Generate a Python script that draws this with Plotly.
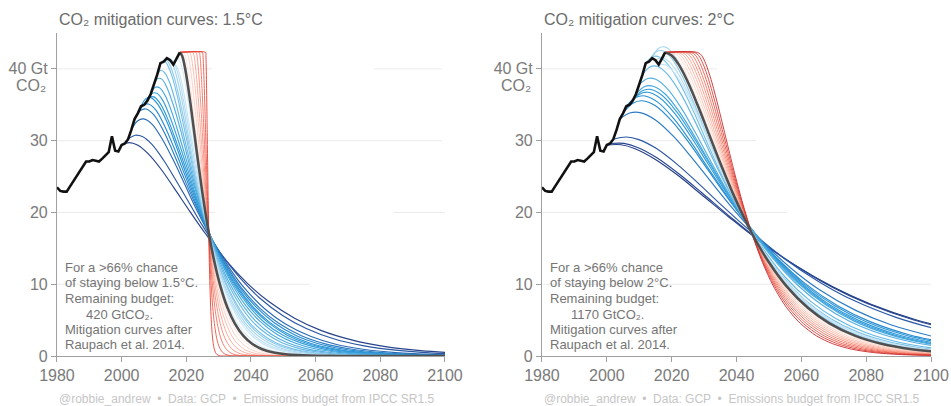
import plotly.graph_objects as go

# ---------------- data ----------------
HIST_YEARS = list(range(1980, 2019))
HIST_EMISSIONS = [23.5, 23.0, 22.9, 22.9, 23.6, 24.3, 25.0, 25.8, 26.5, 27.1,
                  27.1, 27.3, 27.2, 27.1, 27.5, 28.0, 28.4, 30.6, 28.6, 28.5,
                  29.4, 29.6, 30.2, 31.5, 33.0, 33.8, 34.8, 35.0, 35.6, 36.5,
                  37.8, 39.2, 40.8, 41.0, 41.5, 41.2, 40.6, 41.5, 42.3]

# shared shape of the grey / red (delayed) curves after their start of decline
DECLINE_VALUES = [42.3, 41.87, 40.73, 38.49, 34.97, 31.12, 26.51, 22.20, 17.17, 13.05,
                  9.77, 6.71, 4.55, 2.80, 1.71, 0.95, 0.48, 0.20, 0.05, 0.01]

# ---- 1.5 C panel: blue curves (mitigation starting 2000 ... 2017)
B15_YEARS = [
    [2000, 2002.4, 2004.9, 2008.1, 2012.2, 2016.2, 2021.1, 2026.0, 2032.4, 2038.9, 2045.4, 2053.5, 2061.6, 2071.4, 2081.1, 2092.5, 2105.4],
    [2002, 2004.2, 2006.4, 2009.3, 2012.9, 2016.5, 2020.9, 2025.2, 2031.0, 2036.8, 2042.6, 2049.9, 2057.1, 2065.8, 2074.6, 2084.7, 2096.3, 2110.8],
    [2003, 2004.9, 2006.8, 2009.3, 2012.4, 2015.6, 2019.4, 2023.1, 2028.2, 2033.2, 2038.2, 2044.5, 2050.8, 2058.4, 2065.9, 2074.7, 2084.8, 2097.4, 2116.2],
    [2004, 2005.8, 2007.5, 2009.9, 2012.8, 2015.7, 2019.2, 2022.8, 2027.5, 2032.2, 2036.8, 2042.7, 2048.6, 2055.6, 2062.7, 2070.9, 2080.2, 2092.0, 2109.6],
    [2005, 2006.7, 2008.3, 2010.6, 2013.3, 2016.1, 2019.5, 2022.8, 2027.2, 2031.7, 2036.1, 2041.7, 2047.3, 2053.9, 2060.6, 2068.4, 2077.3, 2088.4, 2105.1],
    [2006, 2007.6, 2009.1, 2011.2, 2013.9, 2016.5, 2019.6, 2022.8, 2026.9, 2031.1, 2035.3, 2040.6, 2045.8, 2052.1, 2058.4, 2065.7, 2074.1, 2084.5, 2100.2, 2121.2],
    [2007, 2008.5, 2010.0, 2012.0, 2014.5, 2017.0, 2020.1, 2023.1, 2027.1, 2031.1, 2035.1, 2040.1, 2045.2, 2051.2, 2057.2, 2064.2, 2072.3, 2082.3, 2097.4, 2117.4],
    [2008, 2009.4, 2010.9, 2012.8, 2015.1, 2017.5, 2020.4, 2023.2, 2027.0, 2030.8, 2034.6, 2039.4, 2044.1, 2049.8, 2055.6, 2062.2, 2069.8, 2079.3, 2093.6, 2112.6],
    [2009, 2010.3, 2011.7, 2013.5, 2015.7, 2017.9, 2020.6, 2023.3, 2026.8, 2030.4, 2034.0, 2038.4, 2042.9, 2048.2, 2053.6, 2059.8, 2067.0, 2075.9, 2089.3, 2107.1],
    [2010, 2011.2, 2012.5, 2014.1, 2016.2, 2018.3, 2020.7, 2023.2, 2026.5, 2029.8, 2033.1, 2037.3, 2041.4, 2046.3, 2051.3, 2057.1, 2063.7, 2071.9, 2084.3, 2100.8],
    [2011, 2012.2, 2013.3, 2014.9, 2016.8, 2018.7, 2021.0, 2023.4, 2026.4, 2029.5, 2032.6, 2036.5, 2040.3, 2045.0, 2049.6, 2055.0, 2061.2, 2068.9, 2080.5, 2095.9, 2101],
    [2012, 2013.1, 2014.1, 2015.6, 2017.4, 2019.1, 2021.3, 2023.4, 2026.3, 2029.1, 2032.0, 2035.6, 2039.1, 2043.4, 2047.7, 2052.7, 2058.4, 2065.6, 2076.3, 2090.6, 2101],
    [2013, 2014.0, 2015.0, 2016.4, 2018.1, 2019.8, 2021.8, 2023.8, 2026.6, 2029.3, 2032.0, 2035.4, 2038.7, 2042.8, 2046.9, 2051.6, 2057.0, 2063.8, 2074.0, 2087.5, 2101],
    [2014, 2015.0, 2015.9, 2017.2, 2018.8, 2020.3, 2022.2, 2024.1, 2026.7, 2029.2, 2031.7, 2034.9, 2038.1, 2041.9, 2045.7, 2050.1, 2055.2, 2061.5, 2071.1, 2083.7, 2101],
    [2015, 2015.9, 2016.8, 2018.0, 2019.4, 2020.9, 2022.7, 2024.5, 2026.8, 2029.2, 2031.5, 2034.5, 2037.5, 2041.0, 2044.5, 2048.7, 2053.4, 2059.3, 2068.2, 2080.0, 2101],
    [2016, 2016.8, 2017.7, 2018.8, 2020.1, 2021.5, 2023.2, 2024.8, 2027.0, 2029.2, 2031.4, 2034.2, 2037.0, 2040.3, 2043.6, 2047.4, 2051.8, 2057.4, 2065.6, 2076.7, 2101],
    [2017, 2017.7, 2018.5, 2019.5, 2020.7, 2021.9, 2023.4, 2024.9, 2026.9, 2028.8, 2030.8, 2033.3, 2035.7, 2038.7, 2041.7, 2045.1, 2049.1, 2054.0, 2061.4, 2071.3, 2101],
]
B15_VALUES = [
    [29.4, 29.73, 29.39, 28.22, 26.02, 23.42, 20.15, 17.0, 13.25, 10.12, 7.62, 5.26, 3.57, 2.21, 1.35, 0.75, 0.38],
    [30.2, 30.76, 30.57, 29.51, 27.34, 24.69, 21.31, 18.02, 14.08, 10.77, 8.12, 5.61, 3.82, 2.36, 1.45, 0.81, 0.40, 0.17],
    [31.5, 32.74, 33.03, 32.34, 30.34, 27.64, 24.04, 20.45, 16.07, 12.35, 9.34, 6.48, 4.42, 2.74, 1.68, 0.94, 0.47, 0.20, 0.05],
    [33.0, 34.19, 34.41, 33.62, 31.48, 28.64, 24.88, 21.15, 16.61, 12.76, 9.64, 6.68, 4.56, 2.83, 1.73, 0.97, 0.49, 0.20, 0.05],
    [33.8, 34.94, 35.11, 34.25, 32.03, 29.11, 25.27, 21.46, 16.84, 12.93, 9.77, 6.77, 4.61, 2.86, 1.75, 0.98, 0.49, 0.21, 0.05],
    [34.8, 35.89, 36.0, 35.05, 32.73, 29.72, 25.78, 21.88, 17.16, 13.17, 9.94, 6.88, 4.69, 2.91, 1.78, 1.0, 0.50, 0.21, 0.06, 0.01],
    [35.0, 36.04, 36.10, 35.12, 32.76, 29.73, 25.76, 21.86, 17.13, 13.14, 9.92, 6.87, 4.68, 2.90, 1.78, 0.99, 0.50, 0.21, 0.05, 0.01],
    [35.6, 36.58, 36.60, 35.55, 33.12, 30.03, 26.0, 22.05, 17.27, 13.25, 10.0, 6.92, 4.71, 2.92, 1.79, 1.0, 0.50, 0.21, 0.06, 0.01],
    [36.5, 37.42, 37.38, 36.25, 33.73, 30.55, 26.43, 22.40, 17.53, 13.44, 10.14, 7.02, 4.78, 2.96, 1.81, 1.01, 0.51, 0.21, 0.06, 0.01],
    [37.8, 38.66, 38.54, 37.31, 34.66, 31.36, 27.10, 22.95, 17.95, 13.75, 10.37, 7.17, 4.88, 3.03, 1.85, 1.03, 0.52, 0.22, 0.06, 0.01],
    [39.2, 39.81, 39.48, 38.03, 35.17, 31.71, 27.33, 23.09, 18.02, 13.79, 10.38, 7.17, 4.88, 3.02, 1.85, 1.03, 0.52, 0.22, 0.06, 0.01, 0.0],
    [40.8, 41.16, 40.63, 38.95, 35.86, 32.24, 27.71, 23.36, 18.20, 13.89, 10.45, 7.21, 4.90, 3.03, 1.85, 1.03, 0.52, 0.22, 0.06, 0.01, 0.0],
    [41.0, 41.14, 40.44, 38.61, 35.42, 31.75, 27.23, 22.91, 17.81, 13.58, 10.20, 7.03, 4.78, 2.95, 1.80, 1.0, 0.50, 0.21, 0.06, 0.01, 0.0],
    [41.5, 41.43, 40.57, 38.59, 35.28, 31.54, 26.98, 22.67, 17.59, 13.39, 10.05, 6.92, 4.69, 2.90, 1.77, 0.98, 0.49, 0.21, 0.05, 0.01, 0.0],
    [41.2, 41.11, 40.24, 38.25, 34.96, 31.25, 26.72, 22.45, 17.42, 13.26, 9.95, 6.85, 4.64, 2.87, 1.75, 0.97, 0.49, 0.20, 0.05, 0.01, 0.0],
    [40.6, 40.49, 39.62, 37.65, 34.39, 30.73, 26.28, 22.07, 17.12, 13.03, 9.78, 6.73, 4.56, 2.82, 1.72, 0.96, 0.48, 0.20, 0.05, 0.01, 0.0],
    [41.5, 41.35, 40.44, 38.41, 35.07, 31.33, 26.78, 22.48, 17.43, 13.27, 9.95, 6.85, 4.64, 2.87, 1.75, 0.98, 0.49, 0.20, 0.05, 0.01, 0.0],
]
GREY15_YEARS = [2018.0, 2018.67, 2019.34, 2020.23, 2021.35, 2022.47, 2023.81, 2025.15, 2026.94, 2028.72,
                2030.51, 2032.74, 2034.98, 2037.66, 2040.34, 2043.47, 2047.04, 2051.51, 2058.21, 2067.15]
RED15_YEARS = [
    [2019.0, 2019.60, 2020.19, 2020.98, 2021.98, 2022.97, 2024.16, 2025.35, 2026.94, 2028.52, 2030.11, 2032.09, 2034.08, 2036.46, 2038.84, 2041.62, 2044.79, 2048.76, 2054.71, 2062.65],
    [2020.0, 2020.52, 2021.04, 2021.73, 2022.60, 2023.47, 2024.51, 2025.55, 2026.94, 2028.32, 2029.71, 2031.44, 2033.18, 2035.26, 2037.34, 2039.77, 2042.54, 2046.01, 2051.21, 2058.15],
    [2021.0, 2021.45, 2021.89, 2022.48, 2023.23, 2023.97, 2024.86, 2025.75, 2026.94, 2028.12, 2029.31, 2030.79, 2032.28, 2034.06, 2035.84, 2037.92, 2040.29, 2043.26, 2047.71, 2053.65],
    [2022.0, 2022.37, 2022.74, 2023.23, 2023.85, 2024.47, 2025.21, 2025.95, 2026.94, 2027.92, 2028.91, 2030.14, 2031.38, 2032.86, 2034.34, 2036.07, 2038.04, 2040.51, 2044.21, 2049.15],
    [2023.0, 2023.30, 2023.59, 2023.98, 2024.48, 2024.97, 2025.56, 2026.15, 2026.94, 2027.72, 2028.51, 2029.49, 2030.48, 2031.66, 2032.84, 2034.22, 2035.79, 2037.76, 2040.71, 2044.65],
    [2024.0, 2024.22, 2024.44, 2024.73, 2025.10, 2025.47, 2025.91, 2026.35, 2026.94, 2027.52, 2028.11, 2028.84, 2029.58, 2030.46, 2031.34, 2032.37, 2033.54, 2035.01, 2037.21, 2040.15],
    [2025.0, 2025.15, 2025.29, 2025.48, 2025.73, 2025.97, 2026.26, 2026.55, 2026.94, 2027.32, 2027.71, 2028.19, 2028.68, 2029.26, 2029.84, 2030.52, 2031.29, 2032.26, 2033.71, 2035.65],
    [2026.0, 2026.07, 2026.14, 2026.23, 2026.35, 2026.47, 2026.61, 2026.75, 2026.94, 2027.12, 2027.31, 2027.54, 2027.78, 2028.06, 2028.34, 2028.67, 2029.04, 2029.51, 2030.21, 2031.15],
]

# ---- 2 C panel
B20_YEARS = [
    [2000, 2004.4, 2008.7, 2014.5, 2021.8, 2029.0, 2037.7, 2046.4, 2058.1, 2069.7, 2081.3, 2095.8, 2110.3],
    [2001, 2005.3, 2009.5, 2015.2, 2022.3, 2029.4, 2037.9, 2046.4, 2057.8, 2069.1, 2080.5, 2094.7, 2108.8],
    [2002, 2006.0, 2009.9, 2015.2, 2021.8, 2028.4, 2036.3, 2044.3, 2054.8, 2065.4, 2075.9, 2089.2, 2102.4],
    [2004, 2007.3, 2010.6, 2015.0, 2020.5, 2026.0, 2032.6, 2039.2, 2048.0, 2056.8, 2065.6, 2076.6, 2087.6, 2100.8],
    [2005, 2008.0, 2011.0, 2015.0, 2020.0, 2025.1, 2031.1, 2037.1, 2045.1, 2053.1, 2061.1, 2071.2, 2081.2, 2093.2, 2105.3],
    [2006, 2008.9, 2011.8, 2015.7, 2020.6, 2025.5, 2031.3, 2037.2, 2045.0, 2052.8, 2060.5, 2070.3, 2080.0, 2091.7, 2103.4],
    [2007, 2009.8, 2012.6, 2016.3, 2021.0, 2025.6, 2031.2, 2036.8, 2044.3, 2051.7, 2059.2, 2068.5, 2077.8, 2089.0, 2100.2, 2113.2],
    [2008, 2010.7, 2013.4, 2017.1, 2021.6, 2026.1, 2031.6, 2037.0, 2044.2, 2051.5, 2058.7, 2067.8, 2076.9, 2087.7, 2098.6, 2111.3],
    [2009, 2011.7, 2014.3, 2017.9, 2022.3, 2026.7, 2032.0, 2037.4, 2044.4, 2051.5, 2058.6, 2067.5, 2076.3, 2087.0, 2097.6, 2110.0],
    [2010, 2012.6, 2015.1, 2018.5, 2022.8, 2027.0, 2032.1, 2037.2, 2044.1, 2050.9, 2057.7, 2066.2, 2074.7, 2084.9, 2095.2, 2107.1],
    [2011, 2013.4, 2015.7, 2018.8, 2022.8, 2026.7, 2031.4, 2036.1, 2042.4, 2048.7, 2054.9, 2062.8, 2070.6, 2080.0, 2089.5, 2100.4, 2113.0],
    [2012, 2014.2, 2016.5, 2019.5, 2023.2, 2027.0, 2031.4, 2035.9, 2041.9, 2047.9, 2053.9, 2061.3, 2068.8, 2077.8, 2086.8, 2097.2, 2109.2],
    [2013, 2015.1, 2017.2, 2020.0, 2023.5, 2026.9, 2031.1, 2035.3, 2040.9, 2046.5, 2052.0, 2059.0, 2066.0, 2074.3, 2082.7, 2092.5, 2103.6],
    [2014, 2016.0, 2018.0, 2020.7, 2024.0, 2027.4, 2031.4, 2035.4, 2040.7, 2046.0, 2051.4, 2058.1, 2064.7, 2072.7, 2080.8, 2090.1, 2100.8],
    [2015, 2017.1, 2019.3, 2022.1, 2025.6, 2029.2, 2033.4, 2037.7, 2043.4, 2049.0, 2054.7, 2061.8, 2068.9, 2077.4, 2085.9, 2095.8, 2107.2],
    [2016, 2018.2, 2020.3, 2023.2, 2026.8, 2030.4, 2034.7, 2039.0, 2044.8, 2050.5, 2056.3, 2063.5, 2070.7, 2079.3, 2088.0, 2098.0, 2109.5],
    [2017, 2019.0, 2021.0, 2023.6, 2026.9, 2030.2, 2034.2, 2038.2, 2043.4, 2048.7, 2054.0, 2060.6, 2067.2, 2075.2, 2083.1, 2092.4, 2102.9],
]
B20_VALUES = [
    [29.4, 29.43, 28.88, 27.52, 25.21, 22.57, 19.34, 16.26, 12.63, 9.63, 7.23, 4.98, 3.38],
    [29.6, 29.62, 29.06, 27.69, 25.36, 22.71, 19.45, 16.35, 12.70, 9.68, 7.27, 5.01, 3.40],
    [30.2, 30.51, 30.15, 28.93, 26.66, 23.98, 20.63, 17.40, 13.56, 10.36, 7.79, 5.38, 3.65],
    [33.0, 33.88, 33.88, 32.88, 30.62, 27.75, 24.03, 20.37, 15.95, 12.23, 9.23, 6.39, 4.35, 2.70],
    [33.8, 35.21, 35.56, 34.86, 32.75, 29.86, 25.99, 22.12, 17.39, 13.37, 10.12, 7.01, 4.79, 2.97, 1.82],
    [34.8, 36.02, 36.23, 35.37, 33.10, 30.10, 26.14, 22.21, 17.43, 13.39, 10.12, 7.01, 4.78, 2.97, 1.82],
    [35.0, 36.41, 36.75, 35.99, 33.78, 30.79, 26.79, 22.79, 17.91, 13.77, 10.41, 7.22, 4.93, 3.06, 1.88, 1.05],
    [35.6, 36.90, 37.15, 36.30, 34.0, 30.94, 26.88, 22.85, 17.94, 13.78, 10.42, 7.22, 4.92, 3.05, 1.87, 1.05],
    [36.5, 37.55, 37.59, 36.54, 34.07, 30.90, 26.77, 22.71, 17.79, 13.65, 10.30, 7.13, 4.86, 3.01, 1.84, 1.03],
    [37.8, 38.66, 38.55, 37.32, 34.67, 31.37, 27.11, 22.96, 17.96, 13.76, 10.38, 7.17, 4.88, 3.03, 1.85, 1.03],
    [39.2, 40.31, 40.34, 39.21, 36.55, 33.14, 28.71, 24.35, 19.08, 14.63, 11.04, 7.64, 5.21, 3.23, 1.98, 1.10, 0.56],
    [40.8, 41.72, 41.59, 40.26, 37.40, 33.83, 29.25, 24.76, 19.37, 14.84, 11.19, 7.74, 5.27, 3.26, 2.0, 1.11, 0.56],
    [41.0, 42.35, 42.53, 41.46, 38.75, 35.21, 30.56, 25.95, 20.36, 15.63, 11.80, 8.18, 5.58, 3.46, 2.12, 1.18, 0.59],
    [41.5, 42.87, 43.05, 41.97, 39.23, 35.64, 30.93, 26.27, 20.61, 15.82, 11.95, 8.28, 5.64, 3.50, 2.15, 1.20, 0.60],
    [41.2, 41.53, 40.97, 39.26, 36.13, 32.47, 27.89, 23.51, 18.31, 13.98, 10.51, 7.25, 4.93, 3.05, 1.86, 1.04, 0.52],
    [40.6, 40.56, 39.75, 37.82, 34.60, 30.95, 26.48, 22.25, 17.28, 13.16, 9.87, 6.80, 4.61, 2.85, 1.74, 0.97, 0.49],
    [41.5, 41.79, 41.18, 39.42, 36.25, 32.55, 27.95, 23.56, 18.33, 13.99, 10.52, 7.25, 4.93, 3.05, 1.86, 1.04, 0.52],
]
GREY20_YEARS = [2018.0, 2020.0, 2022.0, 2024.67, 2028.0, 2031.33, 2035.33, 2039.33, 2044.67, 2050.0,
                2055.33, 2062.0, 2068.67, 2076.67, 2084.67, 2094.0, 2104.67]
RED20_YEARS = [
    [2019, 2020.92, 2022.85, 2025.42, 2028.62, 2031.83, 2035.68, 2039.53, 2044.67, 2049.80, 2054.93, 2061.35, 2067.77, 2075.47, 2083.17, 2092.15, 2102.42],
    [2020, 2021.85, 2023.70, 2026.17, 2029.25, 2032.33, 2036.03, 2039.73, 2044.67, 2049.60, 2054.53, 2060.70, 2066.87, 2074.27, 2081.67, 2090.30, 2100.17, 2112.5],
    [2021, 2022.78, 2024.55, 2026.92, 2029.87, 2032.83, 2036.38, 2039.93, 2044.67, 2049.40, 2054.13, 2060.05, 2065.97, 2073.07, 2080.17, 2088.45, 2097.92, 2109.75],
    [2022, 2023.70, 2025.40, 2027.67, 2030.50, 2033.33, 2036.73, 2040.13, 2044.67, 2049.20, 2053.73, 2059.40, 2065.07, 2071.87, 2078.67, 2086.60, 2095.67, 2107.0],
    [2023, 2024.62, 2026.25, 2028.42, 2031.12, 2033.83, 2037.08, 2040.33, 2044.67, 2049.0, 2053.33, 2058.75, 2064.17, 2070.67, 2077.17, 2084.75, 2093.42, 2104.25],
    [2024, 2025.55, 2027.10, 2029.17, 2031.75, 2034.33, 2037.43, 2040.53, 2044.67, 2048.80, 2052.93, 2058.10, 2063.27, 2069.47, 2075.67, 2082.90, 2091.17, 2101.5],
    [2025, 2026.47, 2027.95, 2029.92, 2032.37, 2034.83, 2037.78, 2040.73, 2044.67, 2048.60, 2052.53, 2057.45, 2062.37, 2068.27, 2074.17, 2081.05, 2088.92, 2098.75, 2113.5],
    [2026, 2027.40, 2028.80, 2030.67, 2033.0, 2035.33, 2038.13, 2040.93, 2044.67, 2048.40, 2052.13, 2056.80, 2061.47, 2067.07, 2072.67, 2079.20, 2086.67, 2096.0, 2110.0],
    [2027, 2028.32, 2029.65, 2031.42, 2033.62, 2035.83, 2038.48, 2041.13, 2044.67, 2048.20, 2051.73, 2056.15, 2060.57, 2065.87, 2071.17, 2077.35, 2084.42, 2093.25, 2106.5],
    [2028, 2029.25, 2030.50, 2032.17, 2034.25, 2036.33, 2038.83, 2041.33, 2044.67, 2048.0, 2051.33, 2055.50, 2059.67, 2064.67, 2069.67, 2075.50, 2082.17, 2090.50, 2103.0],
]

TICK_YEARS = [1980, 2000, 2020, 2040, 2060, 2080, 2100]
TICK_VALUES = [0, 10, 20, 30, 40]
TICK_TEXT = ["0", "10", "20", "30", "40 Gt"]

TITLES = ["CO₂ mitigation curves: 1.5°C", "CO₂ mitigation curves: 2°C"]
NOTES = [
    ["For a >66% chance", "of staying below 1.5°C.", "Remaining budget:",
     "420 GtCO₂.", "Mitigation curves after", "Raupach et al. 2014."],
    ["For a >66% chance", "of staying below 2°C.", "Remaining budget:",
     "1170 GtCO₂.", "Mitigation curves after", "Raupach et al. 2014."],
]
FOOTER = "@robbie_andrew  •  Data: GCP  •  Emissions budget from IPCC SR1.5"

# ---------------- styles ----------------
BLUE15_COLORS = ["#26428b", "#2a56a2", "#2b6bb6", "#2a7dc4", "#288bcf", "#2994d5", "#309ad8",
                 "#39a0db", "#45a7de", "#54afe1", "#66b8e5", "#7ac1e8", "#8fcbec", "#a4d5f0",
                 "#b7def3", "#c8e6f6", "#d7edf8"]
BLUE20_COLORS = ["#233d85", "#26468f", "#2a58a5", "#2c7bc3", "#288bcf", "#2994d5", "#309ad8",
                 "#39a0db", "#45a7de", "#54afe1", "#66b8e5", "#7ac1e8", "#8fcbec", "#a4d5f0",
                 "#b7def3", "#c8e6f6", "#d7edf8"]
RED15_COLORS = ["#fde0d8", "#fccdc1", "#fbb8a9", "#f9a290", "#f68a78", "#f27160", "#ed5848", "#e63f32"]
RED20_COLORS = ["#fde2d9", "#fdd2c5", "#fcc1b0", "#fbae9b", "#f99a86", "#f68570", "#f16f5b",
                "#ea5747", "#de3f36", "#c92a2b"]
FONT = "Liberation Sans, Arial, sans-serif"

fig = go.Figure()


def add_panel(xa, ya, b_years, b_values, b_colors, red_years, red_colors, grey_years, tail):
    start = HIST_EMISSIONS[-1]
    for xs, ys, c in zip(b_years, b_values, b_colors):
        fig.add_trace(go.Scatter(x=xs, y=ys, mode="lines", xaxis=xa, yaxis=ya,
                                 line=dict(color=c, width=1.15, shape="spline", smoothing=1.0),
                                 hoverinfo="skip", showlegend=False))
    for xs, c in zip(red_years, red_colors):
        vals = DECLINE_VALUES[:len(xs)]
        x = [HIST_YEARS[-1]] + list(xs)
        y = [start] + vals
        if tail:
            x = x + [2101]
            y = y + [0.0]
        fig.add_trace(go.Scatter(x=x, y=y, mode="lines", xaxis=xa, yaxis=ya,
                                 line=dict(color=c, width=0.9, shape="spline", smoothing=0.8),
                                 hoverinfo="skip", showlegend=False))
    gx = list(grey_years)
    gy = DECLINE_VALUES[:len(gx)]
    if tail:
        gx = gx + [2101]
        gy = gy + [0.0]
    fig.add_trace(go.Scatter(x=gx, y=gy, mode="lines", xaxis=xa, yaxis=ya,
                             line=dict(color="#505050", width=2.6, shape="spline", smoothing=1.0),
                             hoverinfo="skip", showlegend=False))
    fig.add_trace(go.Scatter(x=HIST_YEARS, y=HIST_EMISSIONS, mode="lines", xaxis=xa, yaxis=ya,
                             line=dict(color="#111111", width=2.6),
                             hoverinfo="skip", showlegend=False))


add_panel("x", "y", B15_YEARS, B15_VALUES, BLUE15_COLORS, RED15_YEARS, RED15_COLORS, GREY15_YEARS, True)
add_panel("x2", "y2", B20_YEARS, B20_VALUES, BLUE20_COLORS, RED20_YEARS, RED20_COLORS, GREY20_YEARS, False)

axis_common = dict(showgrid=False, zeroline=False, showline=True, linecolor="#a0a0a0", linewidth=1,
                   ticks="outside", ticklen=5, tickcolor="#a0a0a0", automargin=False,
                   tickfont=dict(family=FONT, size=16, color="#7a7a7a"))

fig.update_layout(
    width=951, height=406,
    margin=dict(l=0, r=0, t=33, b=50, autoexpand=False),
    paper_bgcolor="white", plot_bgcolor="white",
    showlegend=False, hovermode=False,
    xaxis=dict(domain=[0.0599, 0.4679], range=[1980, 2100], tickvals=TICK_YEARS, anchor="y", **axis_common),
    yaxis=dict(domain=[0, 1], range=[0, 45], tickvals=TICK_VALUES, ticktext=TICK_TEXT, anchor="x", **axis_common),
    xaxis2=dict(domain=[0.5699, 0.979], range=[1980, 2100], tickvals=TICK_YEARS, anchor="y2", **axis_common),
    yaxis2=dict(domain=[0, 1], range=[0, 45], tickvals=TICK_VALUES, ticktext=TICK_TEXT, anchor="x2", **axis_common),
)

# faint gridline pieces
GRID_SEGMENTS = [
    ("x", "y", 40, 1980, 2028), ("x", "y", 40, 2078, 2099), ("x", "y", 30, 1980, 2099),
    ("x", "y", 20, 1980, 2029), ("x", "y", 20, 2084, 2100), ("x", "y", 10, 1980, 2058),
    ("x2", "y2", 40, 1980, 2034), ("x2", "y2", 30, 1980, 2046), ("x2", "y2", 20, 1980, 2055.5),
    ("x2", "y2", 10, 1980, 2100),
]
for xr, yr, yv, x0, x1 in GRID_SEGMENTS:
    fig.add_shape(type="line", xref=xr, yref=yr, x0=x0, x1=x1, y0=yv, y1=yv,
                  line=dict(color="#ebebeb", width=1), layer="below")

ann = []
panel_left = [57 / 951, 542 / 951]
co2_right = [47.5 / 951, 532.5 / 951]
for i, (xr, yr) in enumerate([("x", "y"), ("x2", "y2")]):
    ann.append(dict(text=TITLES[i], xref="paper", yref="paper", x=panel_left[i], y=1.043,
                    xanchor="left", yanchor="middle", showarrow=False,
                    font=dict(family=FONT, size=16, color="#6b6b6b")))
    ann.append(dict(text="CO₂", xref="paper", yref=yr, x=co2_right[i], y=40, yshift=-17,
                    xanchor="right", yanchor="middle", showarrow=False,
                    font=dict(family=FONT, size=16, color="#7a7a7a")))
    ann.append(dict(text=FOOTER, xref="paper", yref="paper", x=panel_left[i], y=-0.133,
                    xanchor="left", yanchor="middle", showarrow=False,
                    font=dict(family=FONT, size=12, color="#c6c6c6")))
    ys = [12.35, 10.2, 8.05, 5.85, 3.7, 1.55]
    for j, line in enumerate(NOTES[i]):
        xpos = 1988.4 if j == 3 else 1982.0
        ann.append(dict(text=line, xref=xr, yref=yr, x=xpos, y=ys[j], xanchor="left",
                        yanchor="middle", showarrow=False,
                        font=dict(family=FONT, size=13, color="#757575")))
fig.update_layout(annotations=ann)

fig.write_html("out.html", config={"displayModeBar": False},
               post_script="document.body.style.margin='0px';")
